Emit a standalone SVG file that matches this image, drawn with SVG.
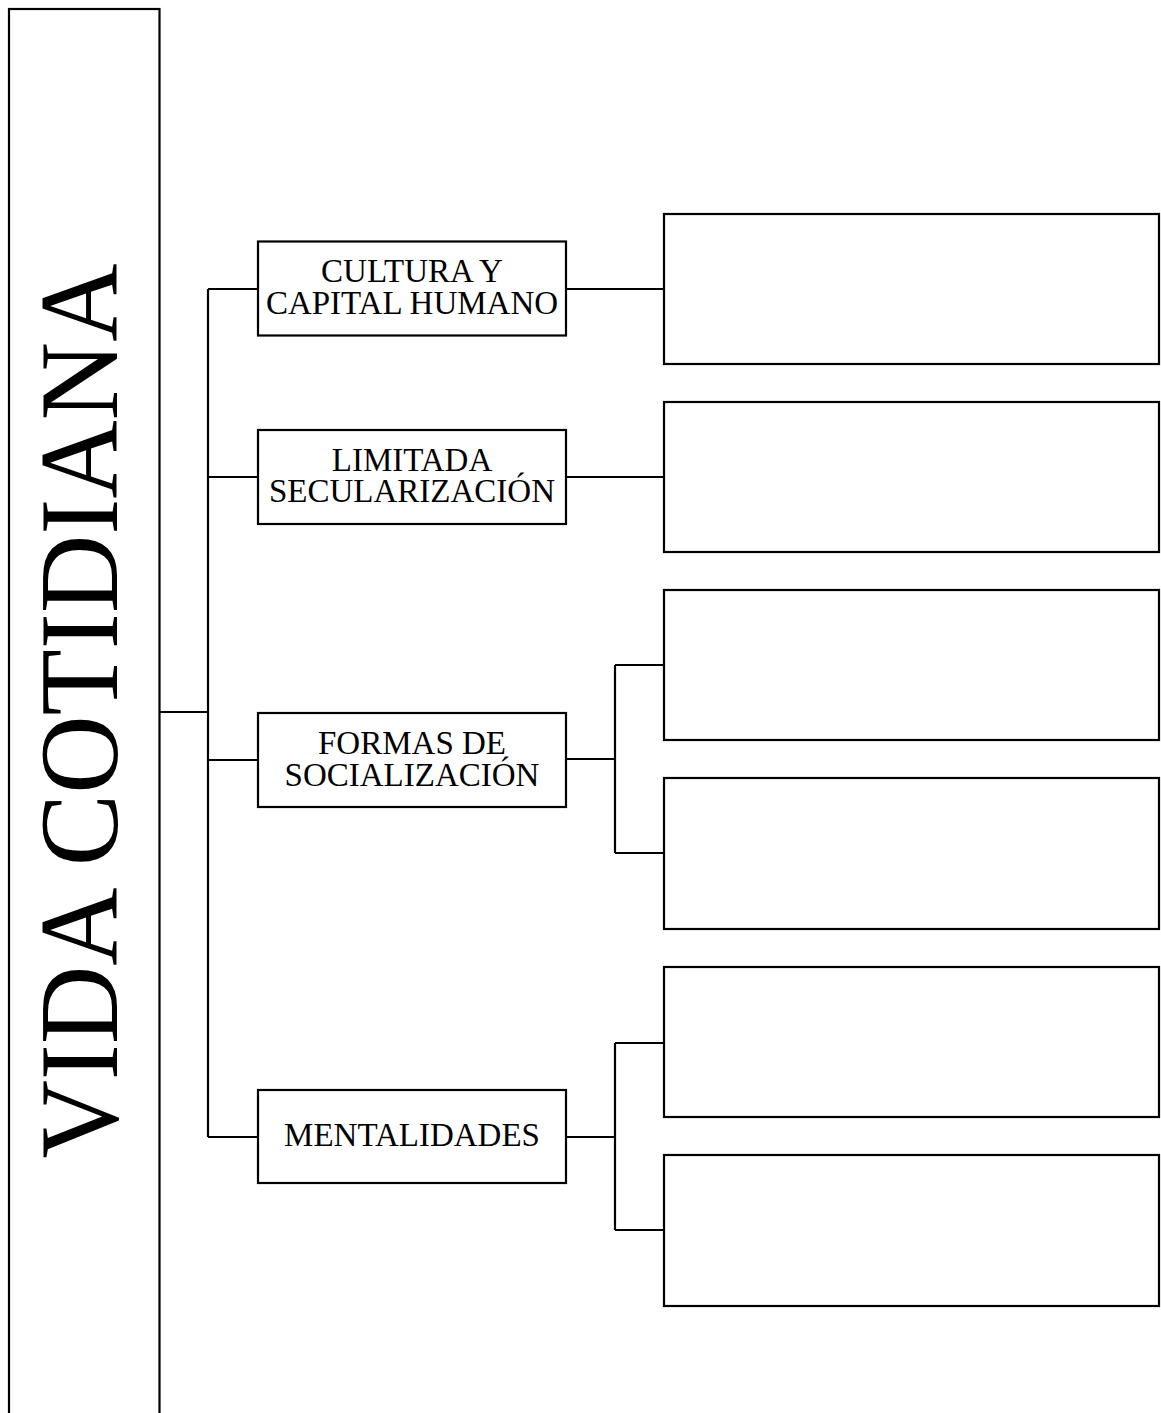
<svg xmlns="http://www.w3.org/2000/svg" width="1161" height="1413" viewBox="0 0 1161 1413">
<style>
.box{fill:#fff;stroke:#000;stroke-width:2.2}
.ln{fill:none;stroke:#000;stroke-width:2.2}
.t{font-family:"Liberation Serif","Times New Roman",serif;font-size:33px;fill:#000;text-anchor:middle}
.big{font-family:"Liberation Serif","Times New Roman",serif;font-size:113px;fill:#000;text-anchor:middle}
</style>
<rect width="1161" height="1413" fill="#fff"/>
<g id="connectors">
<path class="ln" d="M160 712 H208 M208 289 V1137 M208 289 H258 M208 477 H258 M208 760 H258 M208 1137 H258"/>
<path class="ln" d="M566 289 H664 M566 477 H664"/>
<path class="ln" d="M566 759 H615 M615 665 V853 M615 665 H664 M615 853 H664"/>
<path class="ln" d="M566 1137 H615 M615 1043 V1230 M615 1043 H664 M615 1230 H664"/>
</g>
<g id="root">
<rect class="box" x="9" y="9" width="150.5" height="1430"/>
<text class="big" transform="translate(117 711) rotate(-90)" textLength="895" lengthAdjust="spacingAndGlyphs">VIDA COTIDIANA</text>
</g>
<g id="n1">
<rect class="box" x="258" y="241.5" width="308" height="94"/>
<text class="t" x="412" y="282">CULTURA Y</text>
<text class="t" x="412" y="314">CAPITAL HUMANO</text>
</g>
<g id="n2">
<rect class="box" x="258" y="430" width="308" height="94"/>
<text class="t" x="412" y="471">LIMITADA</text>
<text class="t" x="412" y="502">SECULARIZACIÓN</text>
</g>
<g id="n3">
<rect class="box" x="258" y="713" width="308" height="94"/>
<text class="t" x="412" y="754">FORMAS DE</text>
<text class="t" x="412" y="786">SOCIALIZACIÓN</text>
</g>
<g id="n4">
<rect class="box" x="258" y="1090" width="308" height="93"/>
<text class="t" x="412" y="1146">MENTALIDADES</text>
</g>
<g id="r1"><rect class="box" x="664" y="214" width="495" height="150"/></g>
<g id="r2"><rect class="box" x="664" y="402" width="495" height="150"/></g>
<g id="r3"><rect class="box" x="664" y="590" width="495" height="150"/></g>
<g id="r4"><rect class="box" x="664" y="778" width="495" height="151"/></g>
<g id="r5"><rect class="box" x="664" y="967" width="495" height="150"/></g>
<g id="r6"><rect class="box" x="664" y="1155" width="495" height="151"/></g>
</svg>
